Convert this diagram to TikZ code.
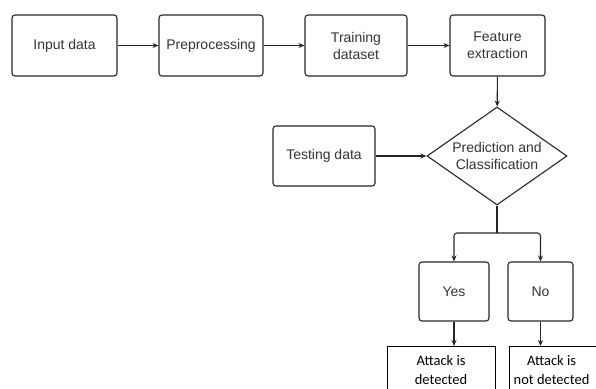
\documentclass[tikz,border=0pt]{standalone}
\usepackage{fontspec}
\setmainfont{Liberation Sans}
\newfontfamily\resultfont{Carlito}
\usetikzlibrary{shapes.geometric,arrows.meta}

\begin{document}
\begin{tikzpicture}[x=1pt, y=-1pt,
    stage/.style={draw=black!85, line width=1.1pt, rounded corners=3pt,
                  minimum height=61pt, text=black!80, align=center,
                  font=\fontsize{14}{17}\selectfont},
    decision/.style={draw=black!85, line width=1.1pt, diamond, aspect=1.43,
                     inner sep=0pt, minimum width=140pt, minimum height=98pt,
                     text=black!80, align=center, font=\fontsize{14}{17}\selectfont},
    result/.style={align=center, text=black, font=\resultfont\fontsize{14.5}{19}\selectfont},
    resultbox/.style={draw=black, line width=0.6pt},
    flow/.style={draw=black!85, line width=1.1pt, -{Stealth[length=6pt,width=5pt]}}]
\useasboundingbox (0,0) rectangle (596,388);
\clip (0,0) rectangle (596,388);

% top row
\node[stage, minimum width=105pt] (input) at (64.5,45.5) {Input data};
\node[stage, minimum width=104pt] (prep)  at (211,45.5)  {Preprocessing};
\node[stage, minimum width=102pt] (train) at (356,45.5)  {Training\\dataset};
\node[stage, minimum width=95pt]  (feat)  at (497.5,45.5) {Feature\\extraction};

% classifier
\node[decision] (pred) at (497,156) {Prediction and\\Classification};
\node[stage, minimum width=102pt, minimum height=60pt] (test) at (324,156) {Testing data};

% outcome boxes
\node[stage, minimum width=70pt, minimum height=59pt] (yes) at (454,291.5) {Yes};
\node[stage, minimum width=65pt, minimum height=59pt] (no)  at (540.5,291.5) {No};

% results (run off the page)
\draw[resultbox] (387,346) rectangle (495,420);
\draw[resultbox] (509,346) rectangle (610,420);
\node[result] (det)   at (441,370.5)   {Attack is\\detected};
\node[result] (nodet) at (551.5,370.5) {Attack is\\not detected};
\coordinate (dettop)   at (yes.south |- 0,346);
\coordinate (nodettop) at (no.south |- 0,346);
\coordinate (split) at (497,233);

\draw[flow] (input) -- (prep);
\draw[flow] (prep) -- (train);
\draw[flow] (train) -- (feat);
\draw[flow] (feat) -- (pred);
\draw[flow] (test) -- (pred);
\draw[draw=black!85, line width=1.1pt] (pred.south) -- (split);
\draw[flow, rounded corners=3pt] (split) -| (yes.north);
\draw[flow, rounded corners=3pt] (split) -| (no.north);
\draw[flow] (yes) -- (dettop);
\draw[flow] (no) -- (nodettop);
\end{tikzpicture}
\end{document}
